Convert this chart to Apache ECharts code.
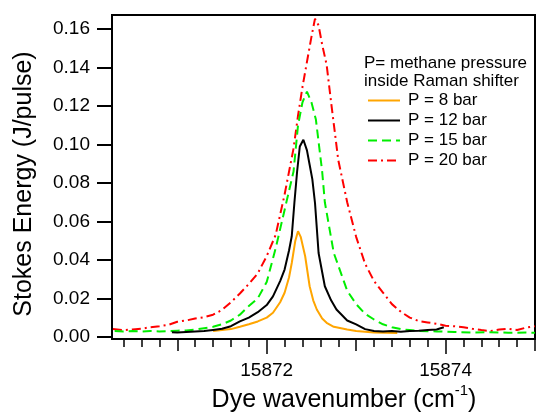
<!DOCTYPE html>
<html>
<head>
<meta charset="utf-8">
<script src="https://cdn.jsdelivr.net/npm/echarts@6/dist/echarts.min.js"></script>
<style>
html,body{margin:0;padding:0;background:#fff;}
#c{width:538px;height:414px;}
</style>
</head>
<body>
<div id="c"></div>
<script>
// ---- data ----
const seriesNames = ['P = 8 bar', 'P = 12 bar', 'P = 15 bar', 'P = 20 bar'];

const x8 = [15871.40,15871.5,15871.6,15871.7,15871.8,15871.9,15872.0,15872.07,15872.15,15872.2,15872.25,15872.28,15872.32,15872.35,15872.38,15872.43,15872.48,15872.52,15872.56,15872.62,15872.67,15872.75,15872.9,15873.0,15873.2,15873.46];
const y8 = [0.0030,0.0035,0.0040,0.0052,0.0065,0.0080,0.0100,0.0125,0.018,0.0229,0.031,0.0384,0.050,0.0549,0.052,0.0419,0.0263,0.019,0.0142,0.0095,0.0073,0.0052,0.0038,0.0030,0.0022,0.0020];

const x12 = [15870.94,15871.0,15871.1,15871.2,15871.3,15871.4,15871.5,15871.6,15871.7,15871.8,15871.9,15872.0,15872.07,15872.15,15872.2,15872.25,15872.28,15872.31,15872.34,15872.37,15872.41,15872.45,15872.48,15872.51,15872.54,15872.58,15872.65,15872.72,15872.78,15872.9,15873.0,15873.1,15873.2,15873.3,15873.4,15873.5,15873.6,15873.7,15873.8,15873.9,15873.98];
const y12 = [0.0024,0.0022,0.0025,0.0028,0.0030,0.0036,0.0042,0.0055,0.0080,0.0100,0.0128,0.0165,0.021,0.029,0.035,0.045,0.0523,0.070,0.086,0.099,0.1025,0.097,0.0895,0.082,0.0696,0.0436,0.0263,0.019,0.0142,0.0085,0.0065,0.0040,0.0030,0.0028,0.0030,0.0026,0.0030,0.0032,0.0035,0.0038,0.0050];

const x15 = [15870.3,15870.4,15870.5,15870.6,15870.7,15870.8,15870.9,15871.0,15871.1,15871.2,15871.3,15871.4,15871.5,15871.6,15871.7,15871.8,15871.9,15872.0,15872.1,15872.2,15872.3,15872.35,15872.4,15872.45,15872.5,15872.55,15872.62,15872.65,15872.75,15872.9,15873.0,15873.1,15873.2,15873.3,15873.4,15873.5,15873.6,15873.7,15873.9,15874.1,15874.3,15874.5,15874.7,15874.9,15875.0];
const y15 = [0.0030,0.0028,0.0030,0.0028,0.0030,0.0028,0.0030,0.0032,0.0033,0.0038,0.0045,0.0052,0.0065,0.0085,0.0115,0.0160,0.0200,0.0285,0.0460,0.066,0.086,0.110,0.122,0.1276,0.122,0.113,0.086,0.070,0.0436,0.024,0.017,0.012,0.009,0.0065,0.0050,0.0040,0.0035,0.0030,0.0028,0.0025,0.0022,0.0024,0.0021,0.0022,0.0021];

const x20 = [15870.28,15870.4,15870.5,15870.6,15870.7,15870.8,15870.9,15871.0,15871.1,15871.2,15871.3,15871.4,15871.5,15871.6,15871.7,15871.8,15871.9,15872.0,15872.1,15872.2,15872.3,15872.35,15872.4,15872.45,15872.5,15872.54,15872.58,15872.62,15872.67,15872.72,15872.8,15872.9,15873.0,15873.1,15873.2,15873.3,15873.4,15873.5,15873.6,15873.7,15873.8,15873.9,15874.0,15874.1,15874.2,15874.3,15874.4,15874.5,15874.6,15874.7,15874.8,15874.9,15875.0];
const y20 = [0.0040,0.0035,0.0038,0.0042,0.0050,0.0055,0.0062,0.0078,0.0085,0.0095,0.0102,0.0115,0.0140,0.0180,0.0225,0.0275,0.0330,0.0420,0.0530,0.0740,0.0980,0.1150,0.1300,0.1430,0.1560,0.1655,0.1620,0.1520,0.1415,0.1220,0.0920,0.0700,0.0520,0.0380,0.0290,0.0230,0.0170,0.0130,0.0100,0.0082,0.0075,0.0068,0.0058,0.0055,0.0050,0.0042,0.0035,0.0030,0.0038,0.0042,0.0035,0.0048,0.0055];

const yTicks = [0, 0.02, 0.04, 0.06, 0.08, 0.10, 0.12, 0.14, 0.16];
const xLabelTicks = [15872, 15874];
const xMidTicks = [15871, 15873, 15875];
const xMinorTicks = [15870.4,15870.6,15870.8,15871.2,15871.4,15871.6,15871.8,15872.2,15872.4,15872.6,15872.8,15873.2,15873.4,15873.6,15873.8,15874.2,15874.4,15874.6,15874.8];

const xMin = 15870.27, xMax = 15875.0;
const yMin = -0.00114, yMax = 0.1674;

// ---- chart ----
function zip(xs, ys){ return xs.map((x,i)=>[x, ys[i]]); }
const FONT = '"Liberation Sans", Arial, Helvetica, sans-serif';
const black = {color:'#000', width:2};

const chart = echarts.init(document.getElementById('c'), null, {renderer:'canvas'});

function xAx(ticks, len, labels){
  return {
    type:'value', min:xMin, max:xMax, position:'bottom', gridIndex:0,
    axisLine:{show:true, onZero:false, lineStyle:black},
    axisTick:{show:true, inside:false, length:len, customValues:ticks, lineStyle:{color:'#000', width:1.5}},
    axisLabel:{show:!!labels, customValues:ticks, margin:22, fontSize:19, fontFamily:FONT, color:'#000',
      formatter:v=>String(Math.round(v))},
    splitLine:{show:false}
  };
}

chart.setOption({
  animation:false,
  grid:{left:112, right:3, top:15, bottom:75, show:true, borderColor:'#000', borderWidth:2, backgroundColor:'transparent'},
  xAxis:[ xAx(xLabelTicks, 15, true), xAx(xMidTicks, 12, false), xAx(xMinorTicks, 8, false) ],
  yAxis:{
    type:'value', min:yMin, max:yMax,
    axisLine:{show:true, onZero:false, lineStyle:black},
    axisTick:{show:true, inside:false, length:15, customValues:yTicks, lineStyle:{color:'#000', width:2}},
    axisLabel:{customValues:yTicks, margin:22, fontSize:19, fontFamily:FONT, color:'#000', formatter:v=>v.toFixed(2)},
    splitLine:{show:false}
  },
  legend:{
    orient:'vertical', left:362, top:87, itemWidth:32, itemHeight:14, itemGap:3, padding:5,
    itemStyle:{opacity:0},
    textStyle:{fontSize:17, fontFamily:FONT, color:'#000', padding:[0,0,0,3]},
    data:seriesNames
  },
  graphic:[
    {type:'text', left:364, top:54, style:{text:'P= methane pressure\ninside Raman shifter', font:'17px '+FONT, fill:'#000', lineHeight:18.5}},
    {type:'text', x:24, y:184, rotation:Math.PI/2,
      style:{text:'Stokes Energy (J/pulse)', font:'25px '+FONT, fill:'#000', align:'center', verticalAlign:'middle'}},
    {type:'text', x:344, y:400,
      style:{text:'{a|Dye wavenumber (cm}{b|-1}{a|)}', align:'center', verticalAlign:'middle',
        rich:{a:{fontSize:25, fontFamily:FONT, fill:'#000', color:'#000'}, b:{fontSize:15, fontFamily:FONT, color:'#000', fill:'#000', padding:[0,0,18,0]}}}}
  ],
  series:[
    {name:seriesNames[0], type:'line', xAxisIndex:0, data:zip(x8,y8), showSymbol:false, symbol:'none', lineStyle:{color:'#FFA500', width:2, type:'solid'}, itemStyle:{color:'#FFA500'}, z:4},
    {name:seriesNames[1], type:'line', xAxisIndex:0, data:zip(x12,y12), showSymbol:false, symbol:'none', lineStyle:{color:'#000000', width:2, type:'solid'}, itemStyle:{color:'#000000'}, z:5},
    {name:seriesNames[2], type:'line', xAxisIndex:0, data:zip(x15,y15), showSymbol:false, symbol:'none', lineStyle:{color:'#00EE00', width:2, type:[9,5]}, itemStyle:{color:'#00EE00'}, z:3},
    {name:seriesNames[3], type:'line', xAxisIndex:0, data:zip(x20,y20), showSymbol:false, symbol:'none', lineStyle:{color:'#FF0000', width:2, type:[9,4,2,4]}, itemStyle:{color:'#FF0000'}, z:2}
  ]
});
</script>
</body>
</html>
